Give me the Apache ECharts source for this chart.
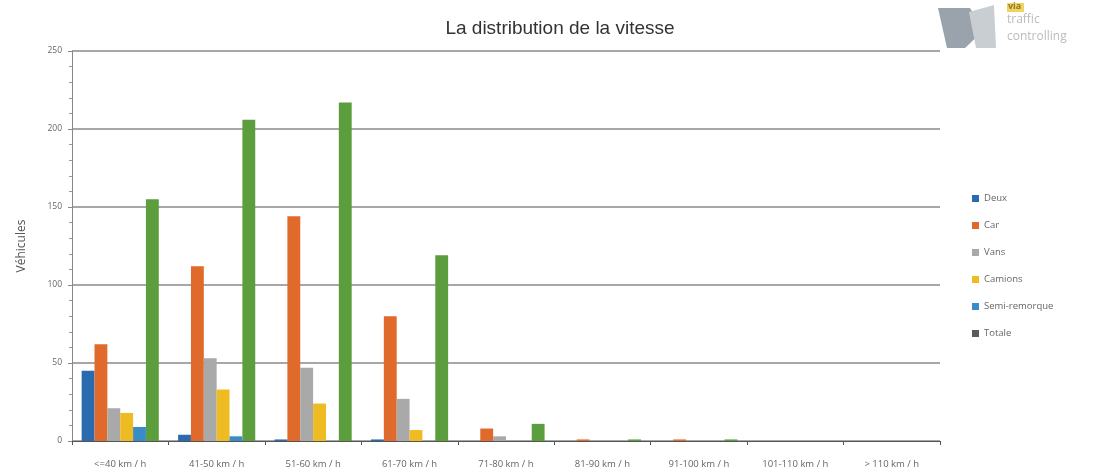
<!doctype html>
<html>
<head>
<meta charset="utf-8">
<title>La distribution de la vitesse</title>
<style>
html, body { margin: 0; padding: 0; background: #fff; }
#main { width: 1100px; height: 476px; }
</style>
</head>
<body>
<div id="main"></div>
<script src="https://cdn.jsdelivr.net/npm/echarts@6/dist/echarts.min.js"></script>
<script>
// classes de vitesse
var categories = ['<=40 km / h', '41-50 km / h', '51-60 km / h', '61-70 km / h', '71-80 km / h',
  '81-90 km / h', '91-100 km / h', '101-110 km / h', '> 110 km / h'];

var deux    = [45, 4, 1, 1, 0, 0, 0, 0, 0];
var car     = [62, 112, 144, 80, 8, 1, 1, 0, 0];
var vans    = [21, 53, 47, 27, 3, 0, 0, 0, 0];
var camions = [18, 33, 24, 7, 0, 0, 0, 0, 0];
var semi    = [9, 3, 0, 0, 0, 0, 0, 0, 0];
var totale  = [155, 206, 217, 119, 11, 1, 1, 0, 0];

var yTicks = [0, 50, 100, 150, 200, 250];

var myChart = echarts.init(document.getElementById('main'));

function bar(name, data, color) {
  return {
    name: name,
    type: 'bar',
    data: data,
    barGap: '0%',
    barCategoryGap: '20%',
    itemStyle: { color: color },
    emphasis: { disabled: true }
  };
}

var option = {
  animation: false,
  backgroundColor: '#fff',
  title: {
    text: 'La distribution de la vitesse',
    left: 555,
    top: 14,
    textAlign: 'center',
    textStyle: { fontFamily: 'Liberation Sans', fontSize: 19, fontWeight: 'normal', color: '#333' }
  },
  legend: {
    orient: 'vertical',
    left: 967,
    top: 187,
    itemWidth: 7,
    itemHeight: 7,
    itemGap: 14,
    icon: 'rect',
    textStyle: { fontFamily: 'Open Sans', fontSize: 9.5, color: '#666', lineHeight: 13 },
    data: [
      { name: 'Deux' },
      { name: 'Car' },
      { name: 'Vans' },
      { name: 'Camions' },
      { name: 'Semi-remorque' },
      { name: 'Totale', itemStyle: { color: '#5a5a5a' } }
    ]
  },
  grid: { left: 72, right: 160, top: 51, bottom: 35 },
  xAxis: {
    type: 'category',
    data: categories,
    axisLine: { lineStyle: { color: '#555', width: 1.2 } },
    axisTick: { show: true, alignWithLabel: false, length: 4, lineStyle: { color: '#555' } },
    axisLabel: { fontFamily: 'Open Sans', fontSize: 9.5, color: '#666', margin: 18, interval: 0 }
  },
  yAxis: {
    type: 'value',
    min: yTicks[0],
    max: yTicks[yTicks.length - 1],
    interval: 50,
    name: 'Véhicules',
    nameLocation: 'middle',
    nameGap: 44,
    nameTextStyle: { fontFamily: 'Open Sans', fontSize: 12, color: '#555' },
    axisLine: { show: true, lineStyle: { color: '#888' } },
    axisTick: { show: true, length: 4, lineStyle: { color: '#888' } },
    minorTick: { show: true, splitNumber: 5, length: 3, lineStyle: { color: '#999' } },
    splitLine: { lineStyle: { color: '#8a8a8a', width: 1.5 } },
    axisLabel: { fontFamily: 'Open Sans', fontSize: 8.5, color: '#666', margin: 10 }
  },
  graphic: [
    {
      type: 'polygon',
      shape: { points: [[938, 8], [970, 8], [984, 30], [965, 48], [947, 48]] },
      style: { fill: '#9aa3ab' }
    },
    {
      type: 'polygon',
      shape: { points: [[969, 12], [994, 5], [996, 48], [976, 48]] },
      style: { fill: '#c9ced3' }
    },
    {
      type: 'rect',
      shape: { x: 1007, y: 3, width: 17, height: 9 },
      style: { fill: '#f2d45c' }
    },
    {
      type: 'text',
      left: 1008, top: 2,
      style: { text: 'via', font: 'bold 9px Open Sans', fill: '#8a7a30' }
    },
    {
      type: 'text',
      left: 1007, top: 14,
      style: { text: 'traffic', font: '12px Open Sans', fill: '#b8bcc0' }
    },
    {
      type: 'text',
      left: 1007, top: 31,
      style: { text: 'controlling', font: '12px Open Sans', fill: '#b8bcc0' }
    }
  ],
  series: [
    bar('Deux', deux, '#2a6aae'),
    bar('Car', car, '#e0692c'),
    bar('Vans', vans, '#a9a9a9'),
    bar('Camions', camions, '#efbb22'),
    bar('Semi-remorque', semi, '#3a8cc6'),
    bar('Totale', totale, '#5c9e3e')
  ]
};

myChart.setOption(option);
</script>
</body>
</html>
